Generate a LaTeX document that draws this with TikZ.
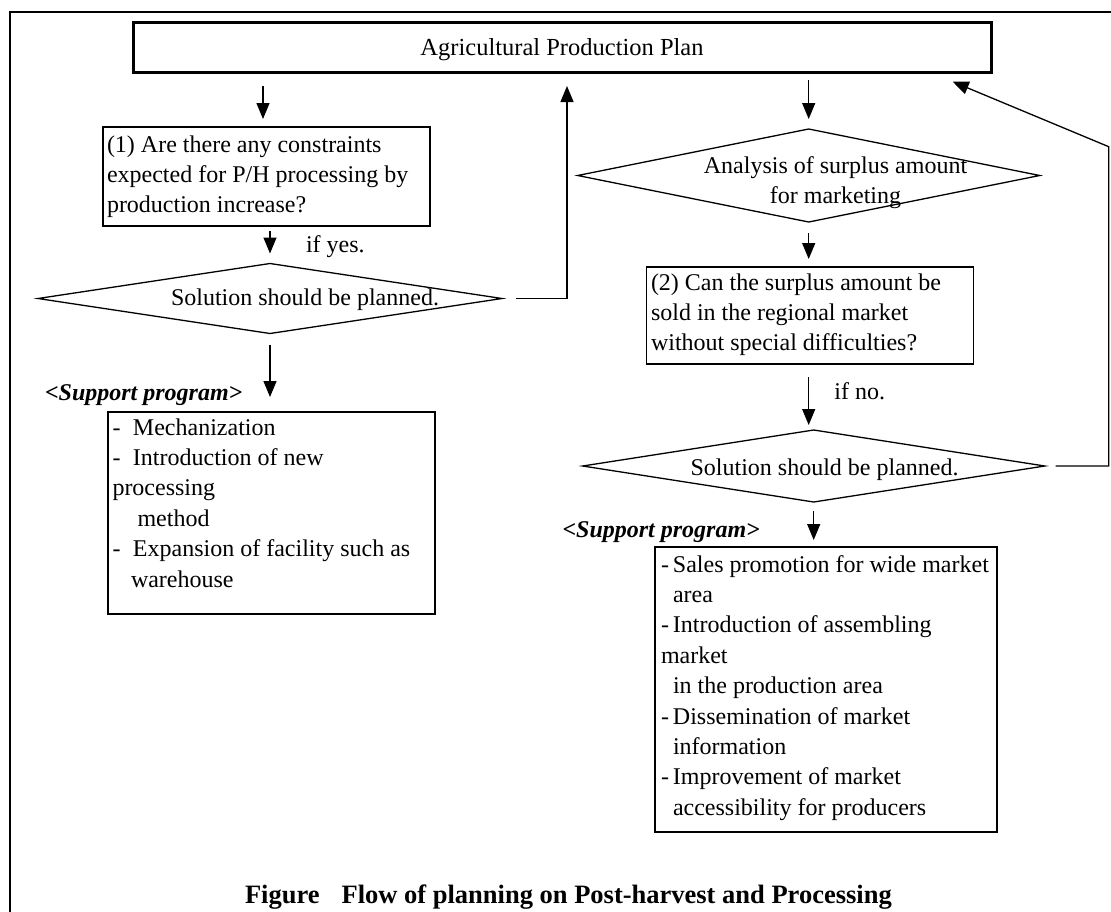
\documentclass[tikz,border=0pt]{standalone}
\usepackage{fontspec}
\setmainfont{Liberation Serif}
\usetikzlibrary{arrows.meta,shapes.geometric}
\newcommand{\bodyfont}{\fontsize{24}{30.4}\selectfont}
\newcommand{\titlefont}{\fontsize{24.5}{30}\selectfont}
\newcommand{\capfont}{\fontsize{26.5}{30}\selectfont\bfseries}
\begin{document}
\begin{tikzpicture}[x=1pt,y=-1pt,
  every node/.style={inner sep=0pt,outer sep=0pt},
  plainbox/.style={draw,rectangle,line width=1.3pt},
  heavybox/.style={draw,rectangle,line width=2.2pt},
  decision/.style={draw,diamond,aspect=1,line width=1.3pt},
  txt/.style={anchor=base west,font=\bodyfont},
  arr/.style={line width=1.3pt,-{Triangle[length=16pt,width=13pt]}},
]
\useasboundingbox (0,0) rectangle (1111,911);
\clip (0,0) rectangle (1111,911);
% outer frame (runs past the right and bottom edges)
\draw[line width=2.2pt] (10,12) rectangle (1135,935);

% boxes
\node[heavybox,line width=3pt,minimum width=858pt,minimum height=50pt,
      font=\titlefont,text height=18pt,text depth=2pt] (plan) at (562,47) {Agricultural Production Plan};
\node[plainbox,minimum width=327pt,minimum height=99pt] (q1) at (266.5,176.5) {};
\node[plainbox,minimum width=326.4pt,minimum height=97pt] (q2) at (810,315.5) {};
\node[heavybox,minimum width=327pt,minimum height=202pt] (s1) at (271.5,513) {};
\node[heavybox,minimum width=341.5pt,minimum height=285pt] (s2) at (826,689.5) {};

% decisions
\node[decision,minimum width=464pt,minimum height=70pt] (d1) at (270,298.5) {};
\node[decision,minimum width=462pt,minimum height=93pt] (d2) at (808.7,175.5) {};
\node[decision,minimum width=462pt,minimum height=72pt] (d3) at (813.7,466) {};

% texts
\node[txt] (q1t) at (107,152) {\begin{minipage}[t]{320pt}\raggedright
(1) Are there any constraints\\
expected for P/H processing by\\
production increase?\end{minipage}};
\node[txt] (q2t) at (651,290) {\begin{minipage}[t]{320pt}\raggedright
(2) Can the surplus amount be\\
sold in the regional market\\
without special difficulties?\end{minipage}};
\node[txt] (d1t) at (171,305) {Solution should be planned.};
\node[anchor=base,font=\bodyfont] (d2t) at (835.5,173) {\begin{minipage}[t]{300pt}\centering
Analysis of surplus amount\\
for marketing\end{minipage}};
\node[txt] (d3t) at (690.6,475) {Solution should be planned.};
\node[txt] (yes) at (306,252) {if yes.};
\node[txt] (no) at (834.4,399) {if no.};
\node[txt,font=\bodyfont\bfseries\itshape] (sp1l) at (45,400) {<Support program>};
\node[txt,font=\bodyfont\bfseries\itshape] (sp2l) at (562.5,537) {<Support program>};
\node[txt] (s1t) at (112.5,435) {\begin{minipage}[t]{320pt}\raggedright
-\hspace{12.5pt}Mechanization\\
-\hspace{12.5pt}Introduction of new\\
processing\\
\hspace*{25pt}method\\
-\hspace{12.5pt}Expansion of facility such as\\
\hspace*{18.5pt}warehouse\end{minipage}};
\node[txt] (s2t) at (661,572) {\begin{minipage}[t]{340pt}\raggedright
-\hspace{4pt}Sales promotion for wide market\\
\hspace*{12pt}area\\
-\hspace{4pt}Introduction of assembling\\
market\\
\hspace*{12pt}in the production area\\
-\hspace{4pt}Dissemination of market\\
\hspace*{12pt}information\\
-\hspace{4pt}Improvement of market\\
\hspace*{12pt}accessibility for producers\end{minipage}};
\node[anchor=base west,font=\capfont] (cap) at (245,903)
  {Figure\hspace{22pt}Flow of planning on Post-harvest and Processing};

% connectors
\coordinate (xa) at (263,0);
\coordinate (xb) at (567,0);
\coordinate (rc) at (1108.7,146.7);
\coordinate (ret) at (952.7,81.7);

\draw[arr,shorten <=14pt,shorten >=8pt] (plan.south -| xa) -- (q1.north -| xa);
\draw[arr,shorten <=5pt,shorten >=10pt] (q1.south -| d1.north) -- (d1.north);
\draw[arr,shorten <=11pt,shorten >=15pt] (d1.south) -- (d1.south |- s1.north);
\draw[arr,shorten <=14pt,shorten >=14pt] (d1.east) -| (plan.south -| xb);

\draw[arr,shorten <=8pt,shorten >=10pt] (plan.south -| d2.north) -- (d2.north);
\draw[arr,shorten <=11pt,shorten >=8pt] (d2.south) -- (d2.south |- q2.north);
\draw[arr,shorten <=13pt,shorten >=5pt] (q2.south -| d2.south) -- (d2.south |- d3.north);
\draw[arr,shorten <=9pt,shorten >=7pt] (d3.south) -- (d3.south |- s2.north);
\draw[arr,shorten <=11pt] (d3.east) -| (rc) -- (ret);
\end{tikzpicture}
\end{document}
